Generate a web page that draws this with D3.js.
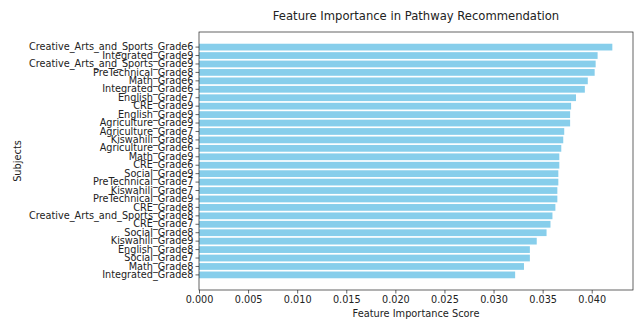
<!DOCTYPE html>
<html>
<head>
<meta charset="utf-8">
<script src="https://cdn.jsdelivr.net/npm/d3@7"></script>
<style>
  body { margin: 0; background: #fff; }
  svg { display: block; font-family: "DejaVu Sans", sans-serif; }
</style>
</head>
<body>
<div id="chart"></div>
<script>
// Subjects, listed from the top bar down (most important first)
const subjects = [
  "Creative_Arts_and_Sports_Grade6",
  "Integrated_Grade9",
  "Creative_Arts_and_Sports_Grade9",
  "PreTechnical_Grade8",
  "Math_Grade6",
  "Integrated_Grade6",
  "English_Grade7",
  "CRE_Grade9",
  "English_Grade9",
  "Agriculture_Grade9",
  "Agriculture_Grade7",
  "Kiswahili_Grade8",
  "Agriculture_Grade6",
  "Math_Grade9",
  "CRE_Grade6",
  "Social_Grade9",
  "PreTechnical_Grade7",
  "Kiswahili_Grade7",
  "PreTechnical_Grade9",
  "CRE_Grade8",
  "Creative_Arts_and_Sports_Grade8",
  "CRE_Grade7",
  "Social_Grade8",
  "Kiswahili_Grade9",
  "English_Grade8",
  "Social_Grade7",
  "Math_Grade8",
  "Integrated_Grade8"
];

// Feature importance score for each subject
const importance = [
  0.0421, 0.0406, 0.0404, 0.0403, 0.0396, 0.0393, 0.0384,
  0.0379, 0.0378, 0.0378, 0.0372, 0.0371, 0.0369, 0.0367,
  0.0367, 0.0366, 0.0366, 0.0365, 0.0365, 0.0363, 0.0360,
  0.0358, 0.0354, 0.0344, 0.0337, 0.0337, 0.0331, 0.0322
];

// X axis tick values
const xTicks = [0.000, 0.005, 0.010, 0.015, 0.020, 0.025, 0.030, 0.035, 0.040];

const W = 638, H = 320;
const margin = { top: 32, right: 5, bottom: 30, left: 199 };
const iw = W - margin.left - margin.right;
const ih = H - margin.top - margin.bottom;

const tickFont = "9.7px";
const labelFont = "9.8px";
const titleFont = "11.6px";

const data = subjects.map((s, i) => ({ subject: s, value: importance[i] }));

const svg = d3.select("#chart").append("svg")
  .attr("width", W).attr("height", H);

const g = svg.append("g")
  .attr("transform", `translate(${margin.left},${margin.top})`);

const x = d3.scaleLinear()
  .domain([0, d3.max(importance) * 1.05])
  .range([0, iw]);

const y = d3.scaleBand()
  .domain(subjects)
  .range([0, ih])
  .paddingInner(0.2)
  .paddingOuter(1.39);

// Bars
g.selectAll("rect.bar")
  .data(data)
  .join("rect")
  .attr("class", "bar")
  .attr("x", x(0))
  .attr("y", d => y(d.subject))
  .attr("width", d => x(d.value) - x(0))
  .attr("height", y.bandwidth())
  .attr("fill", "#87CEEB");

// Axes
const xAxis = d3.axisBottom(x)
  .tickValues(xTicks)
  .tickFormat(d3.format(".3f"))
  .tickSizeOuter(0)
  .tickSize(3.5)
  .tickPadding(3);

const yAxis = d3.axisLeft(y)
  .tickSizeOuter(0)
  .tickSize(3.5)
  .tickPadding(2);

const gx = g.append("g")
  .attr("transform", `translate(0,${ih})`)
  .call(xAxis);

const gy = g.append("g").call(yAxis);

[gx, gy].forEach(a => {
  a.select(".domain").remove();
  a.selectAll("line").attr("stroke", "#222").attr("stroke-width", 0.7);
  a.selectAll("text")
    .attr("fill", "#222")
    .style("font-size", tickFont)
    .style("font-family", "'DejaVu Sans', sans-serif");
});

// Frame around the plotting area
g.append("rect")
  .attr("x", 0).attr("y", 0)
  .attr("width", iw).attr("height", ih)
  .attr("fill", "none")
  .attr("stroke", "#222")
  .attr("stroke-width", 0.7);

// Title
svg.append("text")
  .attr("x", margin.left + iw / 2)
  .attr("y", margin.top - 12)
  .attr("text-anchor", "middle")
  .attr("fill", "#222")
  .style("font-size", titleFont)
  .text("Feature Importance in Pathway Recommendation");

// X axis label
svg.append("text")
  .attr("x", margin.left + iw / 2)
  .attr("y", H - 3)
  .attr("text-anchor", "middle")
  .attr("fill", "#222")
  .style("font-size", labelFont)
  .text("Feature Importance Score");

// Y axis label
svg.append("text")
  .attr("transform", `translate(21,${margin.top + ih / 2}) rotate(-90)`)
  .attr("text-anchor", "middle")
  .attr("fill", "#222")
  .style("font-size", labelFont)
  .text("Subjects");
</script>
</body>
</html>
